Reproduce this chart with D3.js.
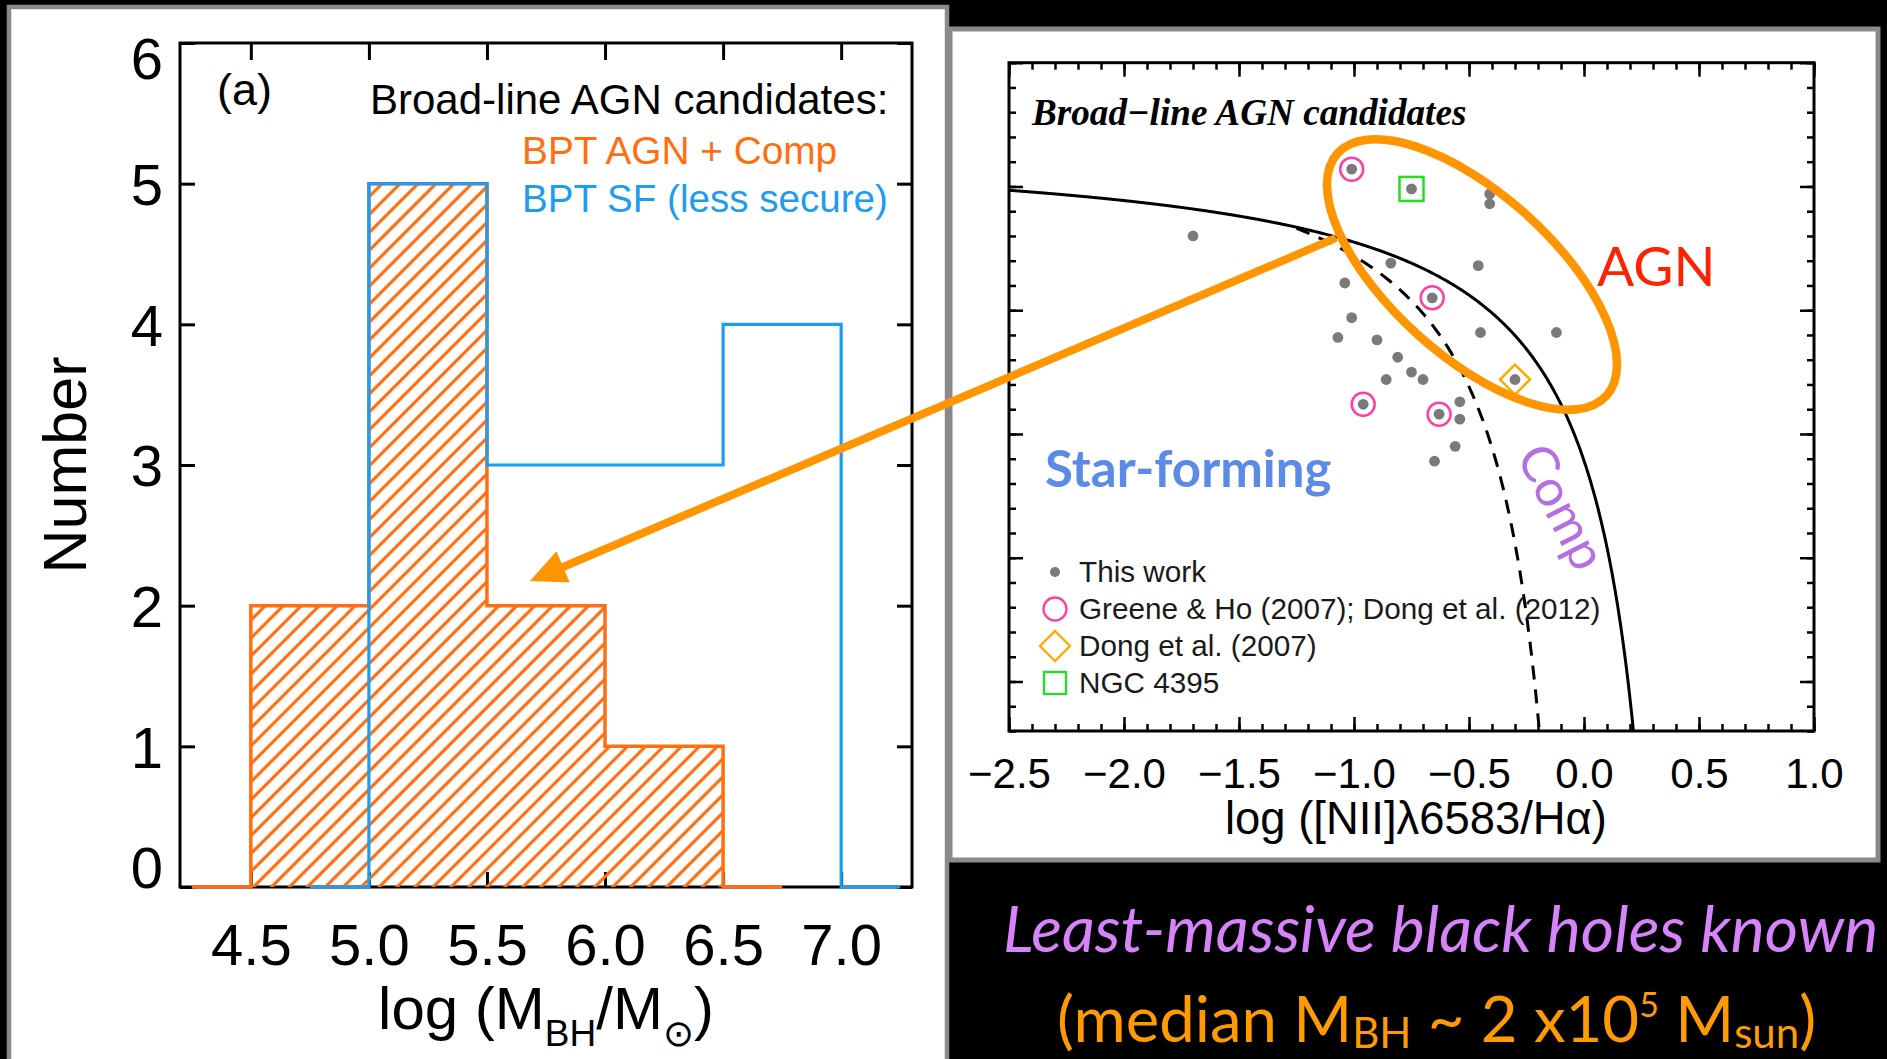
<!DOCTYPE html>
<html>
<head>
<meta charset="utf-8">
<script src="https://cdn.jsdelivr.net/npm/d3@7"></script>
<style>
  html, body { margin: 0; padding: 0; background: #000; }
  svg { display: block; }
</style>
</head>
<body>
<svg id="fig" width="1887" height="1059"></svg>
<script>
// ---------- Panel (a): black-hole mass histograms ----------
const massEdgesAGN = [4.25, 4.5, 5.0, 5.5, 6.0, 6.5, 6.75];   // bin edges, BPT AGN + Comp
const countsAGN    = [0, 2, 5, 2, 1, 0];
const massEdgesSF  = [4.75, 5.0, 5.5, 6.0, 6.5, 7.0, 7.25];   // bin edges, BPT SF
const countsSF     = [0, 5, 3, 3, 4, 0];
const massTicks    = [4.5, 5.0, 5.5, 6.0, 6.5, 7.0];
const countTicks   = [0, 1, 2, 3, 4, 5, 6];

// ---------- BPT diagram ----------
const thisWorkX = [-1.70, -1.01, -0.75, -0.41, -0.41, -0.84, -1.04, -0.46, -0.66, -1.01, -1.07, -0.90, -0.45,
                   -0.12, -0.81, -0.75, -0.70, -0.86, -0.30, -0.96, -0.63, -0.54, -0.54, -0.56, -0.65];
const thisWorkY = [ 0.80,  1.07,  0.99,  0.97,  0.93,  0.69,  0.61,  0.68,  0.55,  0.47,  0.39,  0.38,  0.41,
                    0.41,  0.31,  0.25,  0.22,  0.22,  0.22,  0.12,  0.08,  0.13,  0.06, -0.05, -0.11];
const greeneX = [-1.01, -0.66, -0.96, -0.63];
const greeneY = [ 1.07,  0.55,  0.12,  0.08];
const dongX = [-0.30];
const dongY = [ 0.22];
const ngcX  = [-0.75];
const ngcY  = [ 0.99];
const bptMajorX = [-2.5, -2.0, -1.5, -1.0, -0.5, 0.0, 0.5, 1.0];
const bptMajorY = [-1.0, -0.5, 0.0, 0.5, 1.0, 1.5];
// demarcation curves: log([OIII]/Hb) = a / (log([NII]/Ha) - b) + c
const kewley    = { a: 0.61, b: 0.47, c: 1.19, from: -2.5 };
const kauffmann = { a: 0.61, b: 0.05, c: 1.30, from: -1.25 };

const legendLabels = ["This work", "Greene & Ho (2007); Dong et al. (2012)", "Dong et al. (2007)", "NGC 4395"];

const SANS = "'Liberation Sans', Arial, sans-serif";
const HUMAN = "Lato, 'Open Sans', sans-serif";
const ORANGE_H = "#ff6f12", BLUE_H = "#1e9cf0", ARROW = "#ff9500";

const svg = d3.select("#fig");

// panel backgrounds
svg.append("rect").attr("x", 9).attr("y", 7).attr("width", 938).attr("height", 1090)
  .attr("fill", "#fff").attr("stroke", "#8a8a8a").attr("stroke-width", 4.5);
svg.append("rect").attr("x", 950).attr("y", 29).attr("width", 928).attr("height", 831)
  .attr("fill", "#fff").attr("stroke", "#8a8a8a").attr("stroke-width", 5);

// hatch pattern
const defs = svg.append("defs");
const pat = defs.append("pattern").attr("id", "hatch").attr("patternUnits", "userSpaceOnUse")
  .attr("width", 12.7).attr("height", 12.7).attr("patternTransform", "rotate(45)");
pat.append("line").attr("x1", 6.35).attr("x2", 6.35).attr("y1", -2).attr("y2", 15)
  .attr("stroke", ORANGE_H).attr("stroke-width", 3.2);

// ================= Panel (a) =================
const xA = d3.scaleLinear().domain([4.2, 7.3]).range([180, 912]);
const yA = d3.scaleLinear().domain([0, 6]).range([887, 43]);
const gA = svg.append("g");

function styleTicks(g, w) {
  g.select(".domain").remove();
  g.selectAll(".tick line").attr("stroke", "#000").attr("stroke-width", w);
}
gA.append("g").attr("transform", `translate(0,${yA(0)})`)
  .call(d3.axisBottom(xA).tickValues(massTicks).tickSize(-15).tickPadding(37).tickFormat(d3.format(".1f")))
  .call(g => styleTicks(g, 3))
  .call(g => g.selectAll("text").attr("font-family", SANS).attr("font-size", 58).attr("fill", "#000"));
gA.append("g").attr("transform", `translate(0,${yA(6)})`)
  .call(d3.axisTop(xA).tickValues(massTicks).tickSize(-17).tickFormat(""))
  .call(g => styleTicks(g, 3));
gA.append("g").attr("transform", `translate(${xA.range()[0]},0)`)
  .call(d3.axisLeft(yA).tickValues(countTicks).tickSize(-15).tickPadding(17).tickFormat(d3.format("d")))
  .call(g => styleTicks(g, 3))
  .call(g => g.selectAll("text").attr("font-family", SANS).attr("font-size", 58).attr("fill", "#000")
    .attr("dy", d => d === 6 ? "0.62em" : d === 0 ? "0em" : "0.36em"));
gA.append("g").attr("transform", `translate(${xA.range()[1]},0)`)
  .call(d3.axisRight(yA).tickValues(countTicks).tickSize(-15).tickFormat(""))
  .call(g => styleTicks(g, 3));
gA.append("rect").attr("x", xA.range()[0]).attr("y", yA(6))
  .attr("width", xA.range()[1] - xA.range()[0]).attr("height", yA(0) - yA(6))
  .attr("fill", "none").attr("stroke", "#000").attr("stroke-width", 3);

function stepPoints(edges, counts) {
  const pts = counts.map((c, i) => [edges[i], c]);
  pts.push([edges[edges.length - 1], counts[counts.length - 1]]);
  return pts;
}
const agnPts = stepPoints(massEdgesAGN, countsAGN);
const sfPts = stepPoints(massEdgesSF, countsSF);

gA.append("path").datum(agnPts)
  .attr("d", d3.area().curve(d3.curveStepAfter).x(d => xA(d[0])).y0(yA(0)).y1(d => yA(d[1])))
  .attr("fill", "url(#hatch)");
const stepLine = d3.line().curve(d3.curveStepAfter).x(d => xA(d[0])).y(d => yA(d[1]));
gA.append("path").datum(agnPts).attr("d", stepLine)
  .attr("fill", "none").attr("stroke", ORANGE_H).attr("stroke-width", 3.5);
gA.append("path").datum(sfPts).attr("d", stepLine)
  .attr("fill", "none").attr("stroke", BLUE_H).attr("stroke-width", 3.2);

// panel (a) labels
gA.append("text").attr("x", 217).attr("y", 105).attr("font-family", SANS).attr("font-size", 45).text("(a)");
gA.append("text").attr("x", 370).attr("y", 114).attr("font-family", SANS).attr("font-size", 42)
  .text("Broad-line AGN candidates:");
gA.append("text").attr("x", 522).attr("y", 164).attr("font-family", SANS).attr("font-size", 38.8)
  .attr("fill", ORANGE_H).text("BPT AGN + Comp");
gA.append("text").attr("x", 522).attr("y", 212).attr("font-family", SANS).attr("font-size", 38.6)
  .attr("fill", BLUE_H).text("BPT SF (less secure)");
gA.append("text").attr("transform", "translate(86,465) rotate(-90)").attr("text-anchor", "middle")
  .attr("font-family", SANS).attr("font-size", 61).text("Number");
const xlabA = gA.append("text").attr("x", (xA.range()[0] + xA.range()[1]) / 2).attr("y", 1029)
  .attr("text-anchor", "middle").attr("font-family", SANS).attr("font-size", 60);
xlabA.append("tspan").text("log (M");
xlabA.append("tspan").attr("font-size", 37).attr("dy", 17).text("BH");
xlabA.append("tspan").attr("dy", -17).text("/M");
xlabA.append("tspan").attr("font-size", 37).attr("font-family", "'DejaVu Sans', sans-serif").attr("dy", 17).text("\u2299");
xlabA.append("tspan").attr("dy", -17).text(")");

// ================= BPT panel =================
const xB = d3.scaleLinear().domain([-2.5, 1.0]).range([1009, 1814]);
const yB = d3.scaleLinear().domain([-1.2, 1.5]).range([731, 62.7]);
const gB = svg.append("g");
defs.append("clipPath").attr("id", "bptclip").append("rect")
  .attr("x", xB.range()[0]).attr("y", yB.range()[1])
  .attr("width", xB.range()[1] - xB.range()[0]).attr("height", yB.range()[0] - yB.range()[1]);

const minorX = d3.range(-25, 11).map(i => i / 10);
const minorY = d3.range(-12, 16).map(i => i / 10);
const bx0 = xB.range()[0], bx1 = xB.range()[1], by0 = yB.range()[0], by1 = yB.range()[1];

gB.append("g").attr("transform", `translate(0,${by0})`)
  .call(d3.axisBottom(xB).tickValues(minorX).tickSize(-7).tickFormat("")).call(g => styleTicks(g, 2.5));
gB.append("g").attr("transform", `translate(0,${by0})`)
  .call(d3.axisBottom(xB).tickValues(bptMajorX).tickSize(-14).tickPadding(27).tickFormat(d3.format(".1f")))
  .call(g => styleTicks(g, 2.5))
  .call(g => g.selectAll("text").attr("font-family", SANS).attr("font-size", 42).attr("fill", "#000"));
gB.append("g").attr("transform", `translate(0,${by1})`)
  .call(d3.axisTop(xB).tickValues(minorX).tickSize(-7).tickFormat("")).call(g => styleTicks(g, 2.5));
gB.append("g").attr("transform", `translate(0,${by1})`)
  .call(d3.axisTop(xB).tickValues(bptMajorX).tickSize(-14).tickFormat("")).call(g => styleTicks(g, 2.5));
gB.append("g").attr("transform", `translate(${bx0},0)`)
  .call(d3.axisLeft(yB).tickValues(minorY).tickSize(-7).tickFormat("")).call(g => styleTicks(g, 2.5));
gB.append("g").attr("transform", `translate(${bx0},0)`)
  .call(d3.axisLeft(yB).tickValues(bptMajorY).tickSize(-14).tickFormat("")).call(g => styleTicks(g, 2.5));
gB.append("g").attr("transform", `translate(${bx1},0)`)
  .call(d3.axisRight(yB).tickValues(minorY).tickSize(-7).tickFormat("")).call(g => styleTicks(g, 2.5));
gB.append("g").attr("transform", `translate(${bx1},0)`)
  .call(d3.axisRight(yB).tickValues(bptMajorY).tickSize(-14).tickFormat("")).call(g => styleTicks(g, 2.5));
gB.append("rect").attr("x", bx0).attr("y", by1).attr("width", bx1 - bx0).attr("height", by0 - by1)
  .attr("fill", "none").attr("stroke", "#000").attr("stroke-width", 3);

// x-axis title
gB.append("text").attr("x", 1416).attr("y", 834).attr("text-anchor", "middle")
  .attr("font-family", SANS).attr("font-size", 45.4).text("log ([NII]\u03bb6583/H\u03b1)");

// demarcation curves
function curvePts(p) {
  const yMin = yB.domain()[0];
  const xEnd = p.b + p.a / (yMin - p.c);
  const xs = d3.range(p.from, xEnd, 0.004);
  xs.push(xEnd);
  return xs.map(x => [x, p.a / (x - p.b) + p.c]);
}
const curveLine = d3.line().x(d => xB(d[0])).y(d => yB(d[1]));
const gC = gB.append("g").attr("clip-path", "url(#bptclip)");
gC.append("path").datum(curvePts(kewley)).attr("d", curveLine)
  .attr("fill", "none").attr("stroke", "#000").attr("stroke-width", 3);
gC.append("path").datum(curvePts(kauffmann)).attr("d", curveLine)
  .attr("fill", "none").attr("stroke", "#000").attr("stroke-width", 3).attr("stroke-dasharray", "14,10");

// points
const GRAY = "#7a7a7a", MAG = "#ff3fa4", GRN = "#22e022", DIA = "#ffaa00";
gB.selectAll("circle.tw").data(d3.zip(thisWorkX, thisWorkY)).join("circle").attr("class", "tw")
  .attr("cx", d => xB(d[0])).attr("cy", d => yB(d[1])).attr("r", 5.4).attr("fill", GRAY);
gB.selectAll("circle.gh").data(d3.zip(greeneX, greeneY)).join("circle").attr("class", "gh")
  .attr("cx", d => xB(d[0])).attr("cy", d => yB(d[1])).attr("r", 11.5)
  .attr("fill", "none").attr("stroke", MAG).attr("stroke-width", 2.5);
const diamond = (cx, cy, r) => `M${cx},${cy - r}L${cx + r},${cy}L${cx},${cy + r}L${cx - r},${cy}Z`;
gB.selectAll("path.dg").data(d3.zip(dongX, dongY)).join("path").attr("class", "dg")
  .attr("d", d => diamond(xB(d[0]), yB(d[1]), 15))
  .attr("fill", "none").attr("stroke", DIA).attr("stroke-width", 2.5);
gB.selectAll("rect.ngc").data(d3.zip(ngcX, ngcY)).join("rect").attr("class", "ngc")
  .attr("x", d => xB(d[0]) - 12).attr("y", d => yB(d[1]) - 12).attr("width", 24).attr("height", 24)
  .attr("fill", "none").attr("stroke", GRN).attr("stroke-width", 2.5);

// legend
const legX = 1055, legY0 = 572, legDy = 37;
const lg = gB.append("g");
lg.append("circle").attr("cx", legX).attr("cy", legY0).attr("r", 5).attr("fill", GRAY);
lg.append("circle").attr("cx", legX).attr("cy", legY0 + legDy).attr("r", 11.5)
  .attr("fill", "none").attr("stroke", MAG).attr("stroke-width", 2.3);
lg.append("path").attr("d", diamond(legX, legY0 + 2 * legDy, 15))
  .attr("fill", "none").attr("stroke", DIA).attr("stroke-width", 2.3);
lg.append("rect").attr("x", legX - 11).attr("y", legY0 + 3 * legDy - 11).attr("width", 22).attr("height", 22)
  .attr("fill", "none").attr("stroke", GRN).attr("stroke-width", 2.3);
lg.selectAll("text").data(legendLabels).join("text")
  .attr("x", legX + 24).attr("y", (d, i) => legY0 + 10 + i * legDy)
  .attr("font-family", SANS).attr("font-size", 29.7).attr("fill", "#1a1a1a").text(d => d);

gB.append("text").attr("x", 1032).attr("y", 125)
  .attr("font-family", "'Liberation Serif', 'Times New Roman', serif").attr("font-style", "italic")
  .attr("font-weight", "bold").attr("font-size", 37.2).text("Broad\u2212line AGN candidates");

// region names
gB.append("text").attr("x", 1045).attr("y", 487).attr("font-family", HUMAN).attr("font-weight", "bold")
  .attr("font-size", 51).attr("fill", "#5b8be6").text("Star-forming");
gB.append("text").attr("x", 1597).attr("y", 286).attr("font-family", HUMAN)
  .attr("font-size", 55).attr("fill", "#ff2200").text("AGN");
gB.append("text").attr("transform", "translate(1546,515) rotate(63)").attr("text-anchor", "middle")
  .attr("font-family", HUMAN).attr("font-size", 51).attr("fill", "#b46fe0").text("Comp");

// ================= annotations =================
// ellipse around the AGN-region objects
const ellC = [-0.487, 0.644];
svg.append("ellipse")
  .attr("transform", `translate(${xB(ellC[0])},${yB(ellC[1])}) rotate(42)`)
  .attr("rx", 181).attr("ry", 81)
  .attr("fill", "none").attr("stroke", ARROW).attr("stroke-width", 8.5);

// arrow from the BPT panel into the histogram
const arrowFrom = [-1.078, 0.792];   // BPT coordinates
const arrowTo = [5.682, 2.175];      // histogram coordinates
const p0 = [xB(arrowFrom[0]), yB(arrowFrom[1])];
const tip = [xA(arrowTo[0]), yA(arrowTo[1])];
const len = Math.hypot(p0[0] - tip[0], p0[1] - tip[1]);
const u = [(p0[0] - tip[0]) / len, (p0[1] - tip[1]) / len];
const nrm = [-u[1], u[0]];
const headLen = 36, headHalf = 17;
const base = [tip[0] + u[0] * headLen, tip[1] + u[1] * headLen];
svg.append("line").attr("x1", p0[0]).attr("y1", p0[1]).attr("x2", base[0] - u[0] * 2).attr("y2", base[1] - u[1] * 2)
  .attr("stroke", ARROW).attr("stroke-width", 8);
svg.append("path")
  .attr("d", `M${tip[0]},${tip[1]}L${base[0] + nrm[0] * headHalf},${base[1] + nrm[1] * headHalf}` +
             `L${base[0] - nrm[0] * headHalf},${base[1] - nrm[1] * headHalf}Z`)
  .attr("fill", ARROW);

// ================= caption =================
svg.append("text").attr("x", 1003).attr("y", 952).attr("font-family", HUMAN).attr("font-style", "italic")
  .attr("font-size", 64.3).attr("fill", "#d783fb").text("Least-massive black holes known");
const cap = svg.append("text").attr("x", 1057).attr("y", 1042).attr("font-family", HUMAN)
  .attr("font-size", 63.5).attr("fill", "#ff9a00");
cap.append("tspan").text("(median M");
cap.append("tspan").attr("font-size", 42).attr("dy", 6).text("BH");
cap.append("tspan").attr("dy", -6).text(" ~ 2 x10");
cap.append("tspan").attr("font-size", 34).attr("dy", -25).text("5");
cap.append("tspan").attr("dy", 25).text(" M");
cap.append("tspan").attr("font-size", 42).attr("dy", 6).text("sun");
cap.append("tspan").attr("dy", -6).text(")");
</script>
</body>
</html>
